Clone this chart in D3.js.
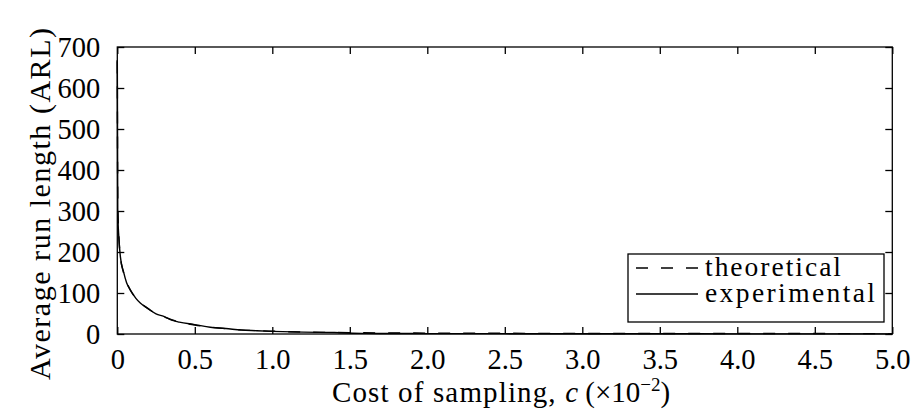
<!DOCTYPE html>
<html>
<head>
<meta charset="utf-8">
<script src="https://cdn.jsdelivr.net/npm/d3@7"></script>
<style>
  html, body { margin: 0; padding: 0; background: #fff; }
  svg { display: block; }
  text { font-family: "Liberation Serif", "DejaVu Serif", serif; fill: #000; }
</style>
</head>
<body>
<svg id="chart" width="916" height="419"></svg>
<script>
// ---- data ----
const xTicks = [0, 0.5, 1.0, 1.5, 2.0, 2.5, 3.0, 3.5, 4.0, 4.5, 5.0];
const xTickLabels = ["0", "0.5", "1.0", "1.5", "2.0", "2.5", "3.0", "3.5", "4.0", "4.5", "5.0"];
const yTicks = [0, 100, 200, 300, 400, 500, 600, 700];
const yTickLabels = ["0", "100", "200", "300", "400", "500", "600", "700"];

const costTheo = [0.0, 0.003, 0.01, 0.02, 0.04, 0.06, 0.085, 0.12, 0.15, 0.2, 0.25, 0.3, 0.35, 0.4, 0.5, 0.6, 0.7, 0.8, 1.0, 1.2, 1.5, 2.0, 2.5, 3.0, 3.5, 4.0, 4.5, 5.0];
const arlTheo  = [665, 330, 240, 190, 150, 127, 106, 88, 76, 61, 50, 42, 35, 29, 22, 17, 13, 10, 6.8, 4.8, 3.2, 2.2, 1.7, 1.4, 1.2, 1.1, 1.05, 1.0];

const costExp = [0.0, 0.003, 0.01, 0.02, 0.04, 0.06, 0.085, 0.12, 0.15, 0.2, 0.25, 0.3, 0.35, 0.4, 0.5, 0.6, 0.7, 0.8, 0.9, 1.0, 1.2, 1.4, 1.6, 1.8, 2.0, 2.5, 3.0, 3.5, 4.0, 4.5, 5.0];
const arlExp  = [668, 300, 235, 188, 152, 125, 107, 87, 75, 62, 49, 43, 34, 29, 23, 16.5, 13.5, 9.5, 8, 6.5, 4.5, 3.5, 1.5, 1.3, 1.0, 0.8, 0.6, 0.5, 0.4, 0.3, 0.3];

const seriesNames = ["theoretical", "experimental"];

// ---- layout ----
const svg = d3.select("#chart");
const L = 117.3, R = 892.3, T = 47, B = 334;
const FS = 28.5;

const x = d3.scaleLinear().domain([0, 5]).range([L, R]);
const y = d3.scaleLinear().domain([0, 700]).range([B, T]);

// frame
svg.append("rect").attr("x", L).attr("y", T).attr("width", R - L).attr("height", B - T)
  .attr("fill", "none").attr("stroke", "#000").attr("stroke-width", 1.3);

// curves
const line = d3.line().x(d => x(d[0])).y(d => y(d[1])).curve(d3.curveMonotoneX);
svg.append("path")
  .datum(costTheo.map((c, i) => [c, arlTheo[i]]))
  .attr("d", line).attr("fill", "none").attr("stroke", "#000")
  .attr("stroke-width", 1.4).attr("stroke-dasharray", "12,13");
svg.append("path")
  .datum(costExp.map((c, i) => [c, arlExp[i]]))
  .attr("d", line).attr("fill", "none").attr("stroke", "#000")
  .attr("stroke-width", 1.4);

// axes
const fmtX = d => xTickLabels[xTicks.indexOf(d)];
const fmtY = d => yTickLabels[yTicks.indexOf(d)];

const gx = svg.append("g").attr("transform", `translate(0,${B})`)
  .call(d3.axisBottom(x).tickValues(xTicks).tickFormat(fmtX).tickSizeInner(-7).tickSizeOuter(0).tickPadding(15));
const gxTop = svg.append("g").attr("transform", `translate(0,${T})`)
  .call(d3.axisTop(x).tickValues(xTicks).tickFormat("").tickSizeInner(-7).tickSizeOuter(0));
const gy = svg.append("g").attr("transform", `translate(${L},0)`)
  .call(d3.axisLeft(y).tickValues(yTicks).tickFormat(fmtY).tickSizeInner(-7).tickSizeOuter(0).tickPadding(17));
const gyR = svg.append("g").attr("transform", `translate(${R},0)`)
  .call(d3.axisRight(y).tickValues(yTicks).tickFormat("").tickSizeInner(-7).tickSizeOuter(0));

[gx, gxTop, gy, gyR].forEach(g => {
  g.select(".domain").remove();
  g.selectAll(".tick line").attr("stroke", "#000").attr("stroke-width", 1.3);
  g.selectAll("text").attr("font-family", "Liberation Serif, DejaVu Serif, serif")
    .attr("font-size", FS).attr("fill", "#000");
});

// axis titles
svg.append("text")
  .attr("x", 332).attr("y", 402)
  .attr("font-size", 29)
  .call(t => {
    t.append("tspan").attr("textLength", 232).attr("lengthAdjust", "spacing").text("Cost of sampling, ");
    t.append("tspan").attr("font-style", "italic").text("c");
    t.append("tspan").text(" (×10");
    t.append("tspan").attr("dy", -11).attr("font-size", 19).text("−2");
    t.append("tspan").attr("dy", 11).text(")");
  });

svg.append("text")
  .attr("transform", `translate(50,${204}) rotate(-90)`)
  .attr("text-anchor", "middle").attr("font-size", 30)
  .attr("textLength", 352).attr("lengthAdjust", "spacing")
  .text("Average run length (ARL)");

// legend
const lgX0 = 628, lgX1 = 884, lgY0 = 254, lgY1 = 322;
const lg = svg.append("g");
lg.append("rect").attr("x", lgX0).attr("y", lgY0).attr("width", lgX1 - lgX0).attr("height", lgY1 - lgY0)
  .attr("fill", "#fff").attr("stroke", "#000").attr("stroke-width", 1.3);
const rowsY = [276, 302];
const textLens = [136, 170];
seriesNames.forEach((name, i) => {
  lg.append("line").attr("x1", 636).attr("x2", 698).attr("y1", rowsY[i] - 8).attr("y2", rowsY[i] - 8)
    .attr("stroke", "#000").attr("stroke-width", 1.3)
    .attr("stroke-dasharray", i === 0 ? "12,13" : null);
  lg.append("text").attr("x", 705).attr("y", rowsY[i])
    .attr("font-size", 27.5).attr("textLength", textLens[i]).attr("lengthAdjust", "spacing").text(name);
});
</script>
</body>
</html>
